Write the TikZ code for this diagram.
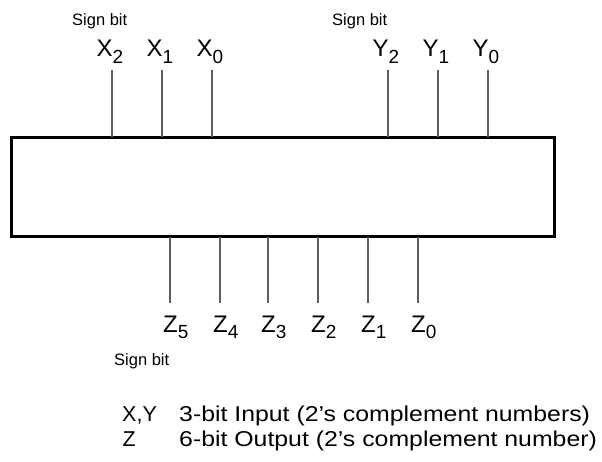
\documentclass[tikz,border=0pt]{standalone}
\usepackage{fontspec}
\setmainfont{Liberation Sans}
\definecolor{pingray}{RGB}{95,95,95}
% subscript index of a signal name
\newcommand\sbit[1]{\raisebox{-6.5pt}{\fontsize{19}{19}\selectfont #1}}
% long legend lines are set a little wider than the font's natural width
\newcommand\wide[1]{\scalebox{1.155}[1]{#1}}
\begin{document}
\begin{tikzpicture}[x=1pt,y=-1pt,
  pin/.style={line width=1.2pt, draw=pingray},
  sig/.style={inner sep=0, anchor=base west, font=\fontsize{24}{24}\selectfont},
  note/.style={inner sep=0, anchor=base west, font=\fontsize{16.5}{16.5}\selectfont},
  legend/.style={inner sep=0, anchor=base west, font=\fontsize{21.5}{21.5}\selectfont}]
\useasboundingbox (0,0) rectangle (602,461);

% the multiplier block
\node[draw, line width=2.8pt, minimum width=543pt, minimum height=99.5pt,
      inner sep=0, outer sep=0] (blk) at (283,186.9) {};

% input pins on top
\foreach \v/\i/\px in {X/2/112, X/1/162, X/0/212, Y/2/388, Y/1/438, Y/0/488} {
  \coordinate (p\v\i) at (\px,70);
  \node[sig] (l\v\i) at (\px-15.5,56.5) {\v\sbit{\i}};
  \draw[pin] (blk.north -| p\v\i) -- (p\v\i);
}

% output pins below
\foreach \i/\px in {5/170, 4/220, 3/268, 2/318, 1/368, 0/418} {
  \coordinate (pZ\i) at (\px,303);
  \node[sig] (lZ\i) at (\px-7,332) {Z\sbit{\i}};
  \draw[pin] (blk.south -| pZ\i) -- (pZ\i);
}

% sign bit remarks
\node[note] (sx) at (72,25.5) {Sign bit};
\node[note] (sy) at (332,25.5) {Sign bit};
\node[note] (sz) at (114,365) {Sign bit};

% legend
\node[legend] (kxy) at (122,421) {X,Y};
\node[legend] (txy) at (179,421) {\wide{3-bit Input (2’s complement numbers)}};
\node[legend] (kz)  at (122.5,446) {Z};
\node[legend] (tz)  at (179,446) {\wide{6-bit Output (2’s complement number)}};
\end{tikzpicture}
\end{document}
